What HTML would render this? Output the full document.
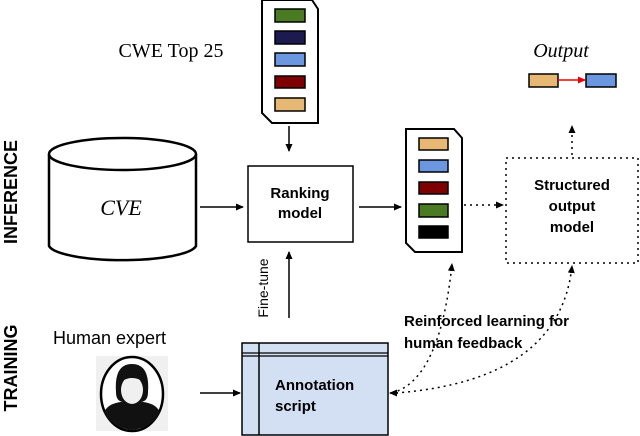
<!DOCTYPE html>
<html><head><meta charset="utf-8"><style>
html,body{margin:0;padding:0;background:#fff;}
svg{display:block;}
</style></head><body>
<svg width="640" height="436" viewBox="0 0 640 436" xmlns="http://www.w3.org/2000/svg">
<defs>
<marker id="ah" markerWidth="8" markerHeight="8" refX="7" refY="4" orient="auto" markerUnits="userSpaceOnUse"><path d="M0,0.5 L8,4 L0,7.5 Z" fill="#000"/></marker>
<marker id="ahr" markerWidth="8" markerHeight="8" refX="7" refY="4" orient="auto" markerUnits="userSpaceOnUse"><path d="M0,0.5 L8,4 L0,7.5 Z" fill="#e00"/></marker>
</defs>
<!-- side labels -->
<text transform="translate(17,192) rotate(-90)" text-anchor="middle" font-family="Liberation Sans, sans-serif" font-weight="bold" font-size="18">INFERENCE</text>
<text transform="translate(17,368) rotate(-90)" text-anchor="middle" font-family="Liberation Sans, sans-serif" font-weight="bold" font-size="18">TRAINING</text>

<!-- CWE Top 25 -->
<text x="171" y="57" text-anchor="middle" font-family="Liberation Serif, serif" font-size="20">CWE Top 25</text>
<path d="M262,0 L312,0 L318,9 L318,123 L272,123 L262,113 Z" fill="#fff" stroke="#000" stroke-width="2"/>
<g stroke="#000" stroke-width="1.5">
<rect x="275" y="9" width="30" height="13" fill="#4a7a22"/>
<rect x="275" y="31" width="30" height="13" fill="#1c1a4e"/>
<rect x="275" y="53" width="30" height="13" fill="#6a97e0"/>
<rect x="275" y="76" width="30" height="12" fill="#7e0000"/>
<rect x="275" y="98" width="30" height="13" fill="#e6b874"/>
</g>
<line x1="289" y1="126" x2="289" y2="151" stroke="#000" stroke-width="1.5" marker-end="url(#ah)"/>

<!-- CVE cylinder -->
<path d="M49,154 L49,246 A74,16 0 0 0 196,246 L196,154" fill="#fff" stroke="#000" stroke-width="2.5"/>
<ellipse cx="122.5" cy="154" rx="73.5" ry="16" fill="#fff" stroke="#000" stroke-width="2.5"/>
<text x="121" y="215" text-anchor="middle" font-family="Liberation Serif, serif" font-style="italic" font-size="22">CVE</text>
<line x1="200" y1="207" x2="243" y2="207" stroke="#000" stroke-width="1.5" marker-end="url(#ah)"/>

<!-- Ranking model -->
<rect x="248" y="166" width="105" height="76" fill="#fff" stroke="#000" stroke-width="1.5"/>
<text x="300" y="198" text-anchor="middle" font-family="Liberation Sans, sans-serif" font-weight="bold" font-size="15">Ranking</text>
<text x="300" y="218" text-anchor="middle" font-family="Liberation Sans, sans-serif" font-weight="bold" font-size="15">model</text>
<line x1="359" y1="207" x2="401" y2="207" stroke="#000" stroke-width="1.5" marker-end="url(#ah)"/>

<!-- Output doc -->
<path d="M406,129 L454,129 L462,138 L462,252 L415,252 L406,243 Z" fill="#fff" stroke="#000" stroke-width="2"/>
<g stroke="#000" stroke-width="1.5">
<rect x="419" y="138" width="29" height="12" fill="#e6b874"/>
<rect x="419" y="160" width="29" height="12" fill="#6a97e0"/>
<rect x="419" y="182" width="29" height="12" fill="#7e0000"/>
<rect x="419" y="204" width="29" height="13" fill="#4a7a22"/>
<rect x="419" y="226" width="29" height="12" fill="#000"/>
</g>
<line x1="464" y1="205" x2="503" y2="205" stroke="#000" stroke-width="1.5" stroke-dasharray="2,4" marker-end="url(#ah)"/>

<!-- Structured output model -->
<rect x="506" y="158" width="132" height="105" fill="#fff" stroke="#000" stroke-width="1.5" stroke-dasharray="2,4"/>
<text x="572" y="190" text-anchor="middle" font-family="Liberation Sans, sans-serif" font-weight="bold" font-size="15">Structured</text>
<text x="572" y="211" text-anchor="middle" font-family="Liberation Sans, sans-serif" font-weight="bold" font-size="15">output</text>
<text x="572" y="232" text-anchor="middle" font-family="Liberation Sans, sans-serif" font-weight="bold" font-size="15">model</text>
<line x1="572" y1="155" x2="572" y2="126" stroke="#000" stroke-width="1.5" stroke-dasharray="2,4" marker-end="url(#ah)"/>

<!-- Output -->
<text x="561" y="57" text-anchor="middle" font-family="Liberation Serif, serif" font-style="italic" font-size="20">Output</text>
<rect x="529" y="74" width="29" height="13" fill="#e6b874" stroke="#000" stroke-width="1.5"/>
<rect x="586" y="74" width="30" height="13" fill="#6a97e0" stroke="#000" stroke-width="1.5"/>
<line x1="558" y1="80" x2="585" y2="80" stroke="#e00" stroke-width="1.5" marker-end="url(#ahr)"/>

<!-- Fine-tune -->
<line x1="289" y1="318" x2="289" y2="252" stroke="#000" stroke-width="1.5" marker-end="url(#ah)"/>
<text transform="translate(268,288) rotate(-90)" text-anchor="middle" font-family="Liberation Sans, sans-serif" font-size="14">Fine-tune</text>

<!-- Human expert -->
<text x="53" y="344" font-family="Liberation Sans, sans-serif" font-size="18">Human expert</text>
<rect x="96" y="356" width="72" height="75" fill="#f0f0f0"/>
<ellipse cx="132" cy="394" rx="31" ry="37" fill="#fff" stroke="#000" stroke-width="2.5"/>
<path d="M104,412 Q110,400 132,402 Q154,400 160,412 Q152,428 132,430 Q112,428 104,412 Z" fill="#111"/>
<path d="M116,392 Q114,364 132,364 Q150,364 148,392 Q148,402 140,402 L124,402 Q116,402 116,392 Z" fill="#111"/>
<ellipse cx="132" cy="390" rx="11" ry="14" fill="#f0f0f0"/>
<path d="M120,382 Q132,374 144,382 L144,372 L120,372 Z" fill="#111"/>
<line x1="200" y1="393" x2="240" y2="393" stroke="#000" stroke-width="1.5" marker-end="url(#ah)"/>

<!-- Annotation script -->
<rect x="242" y="343" width="146" height="92" fill="#d3dff3" stroke="#000" stroke-width="1.5"/>
<line x1="242" y1="353" x2="388" y2="353" stroke="#000" stroke-width="1.2"/>
<line x1="242" y1="356" x2="388" y2="356" stroke="#000" stroke-width="1.2"/>
<line x1="259" y1="343" x2="259" y2="435" stroke="#000" stroke-width="1.5"/>
<text x="275" y="390" font-family="Liberation Sans, sans-serif" font-weight="bold" font-size="15">Annotation</text>
<text x="275" y="411" font-family="Liberation Sans, sans-serif" font-weight="bold" font-size="15">script</text>

<!-- RLHF -->
<path d="M392,393 Q440,380 452,264" fill="none" stroke="#000" stroke-width="1.5" stroke-dasharray="2,4" marker-end="url(#ah)"/>
<path d="M396,393 Q560,380 572,266" fill="none" stroke="#000" stroke-width="1.5" stroke-dasharray="2,4" marker-end="url(#ah)"/>
<path d="M398,393 L390,393" stroke="#000" stroke-width="1.5" marker-end="url(#ah)"/>
<text x="404" y="326" font-family="Liberation Sans, sans-serif" font-weight="bold" font-size="15">Reinforced learning for</text>
<text x="404" y="348" font-family="Liberation Sans, sans-serif" font-weight="bold" font-size="15">human feedback</text>
</svg>
</body></html>
